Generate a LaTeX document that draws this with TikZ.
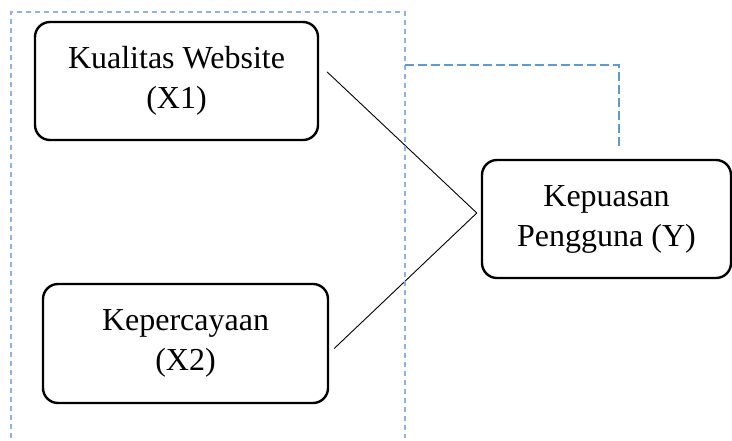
\documentclass[tikz,border=0pt]{standalone}
\usepackage{fontspec}
\setmainfont{Liberation Serif}
\usetikzlibrary{positioning, calc}
\definecolor{framecol}{RGB}{141,179,226}
\definecolor{guidecol}{RGB}{91,155,213}

\begin{document}
\begin{tikzpicture}[x=0.5pt, y=-0.5pt,
    varbox/.style={draw, line width=1.2pt, rounded corners=7.5pt, align=center,
      inner sep=0pt, font=\fontsize{16}{20}\selectfont},
    link/.style={line width=0.45pt},
    frame/.style={draw=framecol, line width=0.65pt, dash pattern=on 2.5pt off 2pt},
    guide/.style={draw=guidecol, line width=0.7pt, dash pattern=on 4.5pt off 2pt}]
      \useasboundingbox (0,0) rectangle (732,440);

      \node[varbox, minimum width=141.5pt, minimum height=59pt] (x1) at (176.5,81) {Kualitas Website\\(X1)};
      \node[varbox, minimum width=142.5pt, minimum height=59.5pt] (x2) at (185.5,343.5) {Kepercayaan\\(X2)};
      \node[varbox, minimum width=124.5pt, minimum height=59pt] (y) at (606.5,219) {Kepuasan\\Pengguna (Y)};

      \coordinate (join) at ([shift={(-4,-6)}]y.west);
      \draw[link] ([shift={(8,-9)}]x1.east) -- (join);
      \draw[link] ([shift={(5,5)}]x2.east) -- (join);

      % grouping frame and its guide
      \draw[frame] (11,438) -- (11,12) -- (405,12) -- (405,438);
      \draw[guide] (405,65) -- (619,65) -- (619,147);
    \end{tikzpicture}
\end{document}
